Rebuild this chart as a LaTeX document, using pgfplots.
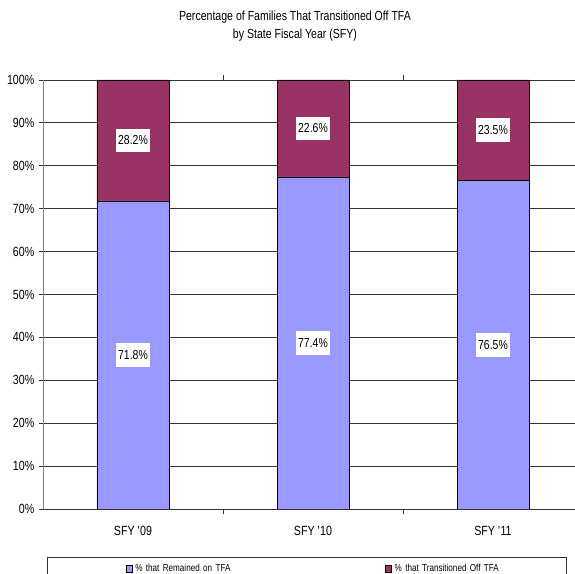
\documentclass[border=0pt]{standalone}
\usepackage{fontspec}
\setmainfont{Liberation Sans}[FakeStretch=0.8]
\usepackage{pgfplots}
\pgfplotsset{compat=1.18}
\definecolor{lav}{RGB}{153,153,255}
\definecolor{plum}{RGB}{153,51,102}
\begin{document}
\begin{tikzpicture}
\begin{axis}[
  at={(0pt,0pt)}, anchor=south west,
  scale only axis, width=405pt, height=321.75pt,
  ybar stacked, bar width=0.4,
  xmin=-0.5, xmax=2.5, ymin=0, ymax=100,
  xtick={0,1,2},
  xticklabels={SFY \textquotesingle09, SFY \textquotesingle10, SFY \textquotesingle11},
  minor xtick={0.5,1.5},
  ytick={0,10,...,100},
  yticklabel={\pgfmathprintnumber{\tick}\%},
  /pgf/number format/assume math mode=true,
  tick align=outside,
  major x tick style={draw=none},
  minor x tick style={black!80, line width=0.6pt},
  y tick style={black!80, line width=0.6pt},
  minor tick length=3.75pt,
  major tick length=3pt,
  ymajorgrids, major grid style={black!80, line width=0.6pt},
  separate axis lines,
  x axis line style={black!80, line width=0.6pt},
  y axis line style={black!50, line width=0.6pt},
  tick label style={font=\fontsize{10}{11}\selectfont},
  xticklabel style={yshift=-6pt},
  nodes near coords={\pgfmathprintnumber[fixed,precision=1,fixed zerofill]{\pgfplotspointmeta}\%},
  point meta=rawy,
  every node near coord/.append style={fill=white, text=black, anchor=center,
     inner xsep=1.5pt, inner ysep=5.5pt, font=\fontsize{9.8}{10}\selectfont},
  legend style={at={(0.0074,-0.1119)}, anchor=north west, draw=black!80, line width=0.6pt,
     legend columns=2, inner xsep=0pt, inner ysep=3pt,
     font=\fontsize{7.6}{9}\selectfont,
     nodes={text width=126.5pt, inner xsep=2pt, align=left},
     /tikz/every even column/.append style={column sep=0pt}},
  legend cell align=left,
  legend image code/.code={\path (-59pt,0pt); \draw[#1, draw=black, line width=0.5pt] (0pt,-2.4pt) rectangle (4.5pt,2.4pt);},
]
\addplot[fill=lav, draw=black, line width=0.5pt] coordinates {(0,71.8) (1,77.4) (2,76.5)};
\addplot[fill=plum, draw=black, line width=0.5pt] coordinates {(0,28.2) (1,22.6) (2,23.5)};
\legend{\% that Remained on TFA, \% that Transitioned Off TFA}
\end{axis}
\node[anchor=base, font=\fontsize{9.9}{10}\selectfont] at (189pt,366pt) {Percentage of Families That Transitioned Off TFA};
\node[anchor=base, font=\fontsize{9.9}{10}\selectfont] at (189pt,352.5pt) {by State Fiscal Year (SFY)};
\pgfresetboundingbox
\useasboundingbox (-32.25pt,-48.75pt) rectangle (399pt,381.75pt);
\end{tikzpicture}
\end{document}
